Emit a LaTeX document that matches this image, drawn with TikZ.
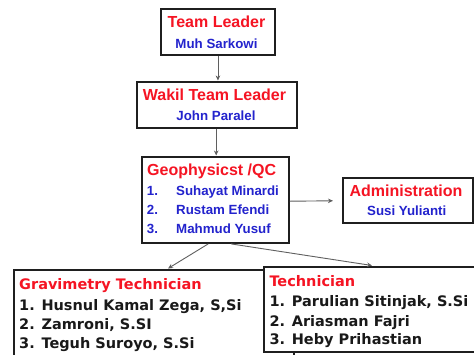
\documentclass[tikz,border=0pt]{standalone}
\usepackage{fontspec}
\setmainfont{Liberation Sans}
\newfontfamily\dvs{DejaVu Sans}
\usetikzlibrary{arrows.meta}
\definecolor{tred}{RGB}{245,20,35}
\definecolor{tblue}{RGB}{35,35,205}
\definecolor{tblack}{RGB}{25,25,25}
\definecolor{tline}{RGB}{95,95,95}
\tikzset{
  box/.style={draw=black!88, line width=2.4pt, fill=white, inner sep=0pt, anchor=north west, rectangle},
  ttl/.style={text=tred, font=\fontsize{16}{16}\selectfont\bfseries, inner sep=0pt},
  nm/.style={text=tblue, font=\fontsize{13.3}{13.3}\selectfont\bfseries, inner sep=0pt},
  bttl/.style={text=tred, font=\dvs\fontsize{14.5}{14.5}\selectfont\bfseries, inner sep=0pt, anchor=base west},
  bnm/.style={text=tblack, font=\dvs\fontsize{14.5}{14.5}\selectfont\bfseries, inner sep=0pt, anchor=base west},
  arr/.style={draw=tline, line width=0.9pt, -{Stealth[length=5pt,width=4.5pt]}},
}
\begin{document}
\begin{tikzpicture}[x=1pt,y=-1pt]
\useasboundingbox (0,0) rectangle (474,354);
\clip (0,0) rectangle (474,354);
\fill[white] (0,0) rectangle (474,354);

% boxes
\node[box, minimum width=113.5pt, minimum height=46pt] (tl) at (160,8) {};
\node[box, minimum width=160pt, minimum height=46pt] (wtl) at (135.5,80.5) {};
\node[box, minimum width=147pt, minimum height=86pt] (geo) at (140.5,155.5) {};
\node[box, minimum width=129.5pt, minimum height=45pt] (adm) at (342,177) {};
\node[box, minimum width=280pt, minimum height=100pt] (grav) at (13,268.5) {};
\node[box, minimum width=220pt, minimum height=85pt] (tech) at (263,265.5) {};

% texts
\node[ttl, anchor=base] (tlt) at (216.5,27.7) {Team Leader};
\node[nm, anchor=base] (tln) at (216.5,48.3) {Muh Sarkowi};
\node[ttl, anchor=base] (wtlt) at (214.5,100) {Wakil Team Leader};
\node[nm, anchor=base] (wtln) at (216,120) {John Paralel};
\node[ttl, anchor=base west] (geot) at (147,175.7) {Geophysicst /QC};
\node[nm, anchor=base west] (g1n) at (146.7,195) {1.};
\node[nm, anchor=base west] (g1) at (176,195) {Suhayat Minardi};
\node[nm, anchor=base west] (g2n) at (146.7,214) {2.};
\node[nm, anchor=base west] (g2) at (176,214) {Rustam Efendi};
\node[nm, anchor=base west] (g3n) at (146.7,233.3) {3.};
\node[nm, anchor=base west] (g3) at (176,233.3) {Mahmud Yusuf};
\node[ttl, anchor=base] (admt) at (406,196.7) {Administration};
\node[nm, anchor=base] (admn) at (406.7,215) {Susi Yulianti};

\node[bttl] (gravt) at (19,289.3) {Gravimetry Technician};
\node[bnm] (gr1) at (19,310) {1. Husnul Kamal Zega, S,Si};
\node[bnm] (gr2) at (19,329.3) {2. Zamroni, S.SI};
\node[bnm] (gr3) at (19,348.3) {3. Teguh Suroyo, S.Si};

\node[bttl] (techt) at (269.3,286) {Technician};
\node[bnm] (te1) at (269.3,306.7) {1. Parulian Sitinjak, S.Si};
\node[bnm] (te2) at (269.3,326) {2. Ariasman Fajri};
\node[bnm] (te3) at (269.3,344.3) {3. Heby Prihastian};

% connectors
\draw[arr] (tl.south) -- (tl.south |- wtl.north);
\draw[arr] ([xshift=-0.5pt]wtl.south) -- ([xshift=-0.5pt]wtl.south |- geo.north);
\draw[arr, shorten >=9pt] ([yshift=-1.5pt]geo.east) -- (adm.west);
\draw[arr] ([xshift=-7pt]geo.south) -- ([xshift=155pt]grav.north west);
\draw[arr] ([xshift=16pt]geo.south) -- ([xshift=109pt]tech.north west);
\end{tikzpicture}
\end{document}
